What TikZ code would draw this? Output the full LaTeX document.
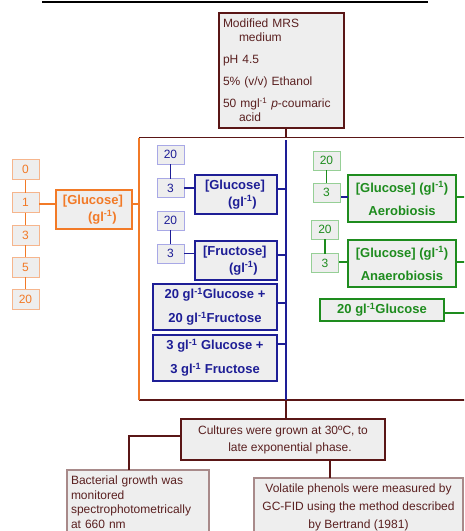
\documentclass[tikz,border=0pt]{standalone}
\usepackage{fontspec}
\setmainfont{Liberation Sans}
\usetikzlibrary{calc}
\definecolor{brn}{HTML}{5A1616}
\definecolor{brntxt}{HTML}{5A2020}
\definecolor{brnL}{HTML}{A88A8A}
\definecolor{org}{HTML}{F27A27}
\definecolor{orgL}{HTML}{F6B58C}
\definecolor{blu}{HTML}{1E1E96}
\definecolor{bluL}{HTML}{A8A8E6}
\definecolor{grn}{HTML}{1E8C1E}
\definecolor{grnL}{HTML}{96CF96}
\definecolor{boxfill}{HTML}{EEEEEE}
\newcommand\fn{\fontsize{12}{14}\selectfont}
\newcommand\gli{gl\textsuperscript{-1}}
\begin{document}
\begin{tikzpicture}[x=1pt,y=-1pt,
  every node/.style={inner sep=0pt,outer sep=0pt},
  bx/.style={draw,fill=boxfill,anchor=center},
  osmall/.style={bx,draw=orgL,line width=1pt,text=org,minimum width=27pt,minimum height=20pt,font=\fn},
  bsmall/.style={bx,draw=bluL,line width=1pt,text=blu,minimum width=27pt,minimum height=19pt,font=\fn},
  gsmall/.style={bx,draw=grnL,line width=1pt,text=grn,minimum width=27pt,minimum height=19pt,font=\fn},
  obig/.style={bx,draw=org,line width=1.6pt,text=org,font=\fontsize{13}{17}\selectfont\bfseries,align=left},
  bbig/.style={bx,draw=blu,line width=1.6pt,text=blu,font=\fontsize{13}{17}\selectfont\bfseries,align=left},
  gbig/.style={bx,draw=grn,line width=1.6pt,text=grn,font=\fontsize{13}{23}\selectfont\bfseries,align=center},
  olink/.style={draw=org,line width=1.2pt},
  blink/.style={draw=blu,line width=1.2pt},
  glink/.style={draw=grn,line width=1.2pt},
  rlink/.style={draw=brn,line width=1.2pt}]
\useasboundingbox (0,0) rectangle (464,531);
\clip (0,0) rectangle (464,531);

% top rule
\coordinate (tl) at (42,1.5);
\coordinate (tr) at (428,1.5);
\draw[line width=2pt,black] (tl) -- (tr);

% medium box
\node[bx,draw=brn,line width=1.3pt,text=brntxt,minimum width=125pt,minimum height=115pt,text width=117pt,align=left,font=\fn] (mrs) at (281.5,70.5)
 {Modified MRS\\ \hspace*{16pt}medium\\[8pt] pH 4.5\\[8pt] 5\% (v/v) Ethanol\\[8pt] 50 mgl\textsuperscript{-1} \textit{p}-coumaric\\ \hspace*{16pt}acid};

% frame
\coordinate (ftl) at (139,137.5);
\coordinate (fbl) at (139,400);
\coordinate (ftr) at (470,137.5);
\coordinate (fbr) at (470,400);
\coordinate (ftm) at (286,137.5);
\coordinate (fbm) at (286,400);
\coordinate (bvt) at (286,140);
\draw[rlink] (ftl) -- (ftr);
\draw[rlink] (fbl) -- (fbr);
\draw[olink] (ftl) -- (fbl);
\draw[rlink] (ftm |- mrs.south) -- (ftm);
\draw[blink] (bvt) -- (fbm);

% orange group
\node[osmall] (o0) at (25.5,169.5) {0};
\node[osmall] (o1) at (25.5,202.5) {1};
\node[osmall] (o3) at (25.5,235) {3};
\node[osmall] (o5) at (25.5,267) {5};
\node[osmall] (o20) at (25.5,299) {20};
\draw[olink] (o0) -- (o1) (o1) -- (o3) (o3) -- (o5) (o5) -- (o20);
\node[obig,minimum width=76pt,minimum height=39pt,text width=62pt] (og) at (94,209.5)
 {[Glucose]\\ \hspace*{25pt}(\gli)};
\coordinate (oj) at (139,204);
\draw[olink] (o1.east |- oj) -- (og.west |- oj);
\draw[olink] (og.east |- oj) -- (oj);

% blue group
\node[bsmall] (b20a) at (170.5,154.5) {20};
\node[bsmall] (b3a) at (170.5,188) {3};
\node[bsmall] (b20b) at (170.5,220.5) {20};
\node[bsmall] (b3b) at (170.5,253.5) {3};
\draw[blink] (b20a) -- (b3a) (b20b) -- (b3b);
\node[bbig,minimum width=82pt,minimum height=39pt,text width=62pt] (bg) at (236,194.5)
 {[Glucose]\\ \hspace*{23pt}(\gli)};
\node[bbig,minimum width=82pt,minimum height=39pt,text width=66pt] (bf) at (236,260.5)
 {[Fructose]\\ \hspace*{26pt}(\gli)};
\node[bbig,minimum width=124pt,minimum height=46pt,align=center,font=\fontsize{13}{24}\selectfont\bfseries] (bgf20) at (215,307)
 {20 \gli Glucose +\\ 20 \gli Fructose};
\node[bbig,minimum width=124pt,minimum height=46pt,align=center,font=\fontsize{13}{24}\selectfont\bfseries] (bgf3) at (215,358)
 {3 \gli{} Glucose +\\ 3 \gli{} Fructose};
\draw[blink] (b3a) -- (b3a -| bg.west);
\draw[blink] (b3b) -- (b3b -| bf.west);
\coordinate (bj1) at (286,189);
\coordinate (bj2) at (286,255);
\coordinate (bj3) at (286,303);
\coordinate (bj4) at (286,344);
\draw[blink] (bj1) -- (bj1 -| bg.east);
\draw[blink] (bj2) -- (bj2 -| bf.east);
\draw[blink] (bj3) -- (bj3 -| bgf20.east);
\draw[blink] (bj4) -- (bj4 -| bgf3.east);

% green group
\node[gsmall] (g20a) at (326.5,160.5) {20};
\node[gsmall] (g3a) at (326.5,192.5) {3};
\node[gsmall] (g20b) at (325,229.5) {20};
\node[gsmall] (g3b) at (325,263) {3};
\draw[glink] (g20a) -- (g3a) (g20b) -- (g3b);
\node[gbig,minimum width=108pt,minimum height=47pt] (gae) at (402,198.5)
 {[Glucose] (\gli)\\ Aerobiosis};
\node[gbig,minimum width=108pt,minimum height=47pt] (gan) at (402,263.5)
 {[Glucose] (\gli)\\ Anaerobiosis};
\node[gbig,minimum width=124pt,minimum height=22pt] (g20) at (382,310)
 {20 \gli Glucose};
\coordinate (ga) at (341,197);
\draw[blink] (ga) -- (ga -| gae.west);
\coordinate (gb) at (339,262);
\draw[glink] (gb) -- (gb -| gan.west);
\coordinate (gr1) at (470,197);
\coordinate (gr2) at (470,262);
\coordinate (gr3) at (470,313);
\draw[glink] (gae.east |- gr1) -- (gr1);
\draw[glink] (gan.east |- gr2) -- (gr2);
\draw[glink] (g20.east |- gr3) -- (gr3);

% bottom
\node[bx,draw=brn,line width=1.3pt,text=brntxt,minimum width=204pt,minimum height=41pt,align=center,font=\fontsize{12}{17}\selectfont] (cu) at (283,439.5)
 {Cultures were grown at 30ºC, to\\ \hspace*{14pt}late exponential phase.};
\draw[rlink] (fbm) -- (cu.north -| fbm);
\node[bx,draw=brnL,line width=1.2pt,text=brntxt,minimum width=142pt,minimum height=64pt,text width=134pt,align=left,font=\fontsize{12}{14.5}\selectfont] (bac) at (138,502)
 {Bacterial growth was\\ monitored\\ spectrophotometrically\\ at 660 nm};
\node[bx,draw=brnL,line width=1.2pt,text=brntxt,minimum width=209pt,minimum height=58pt,align=center,font=\fontsize{12}{18}\selectfont] (vol) at (358.5,507)
 {Volatile phenols were measured by\\ GC-FID using the method described\\ by Bertrand (1981)};
\coordinate (cb) at (129,436);
\coordinate (cv) at (330,470);
\draw[rlink] (cu.west |- cb) -- (cb) -- (cb |- bac.north);
\draw[rlink] (cv |- cu.south) -- (cv |- vol.north);
\end{tikzpicture}
\end{document}
